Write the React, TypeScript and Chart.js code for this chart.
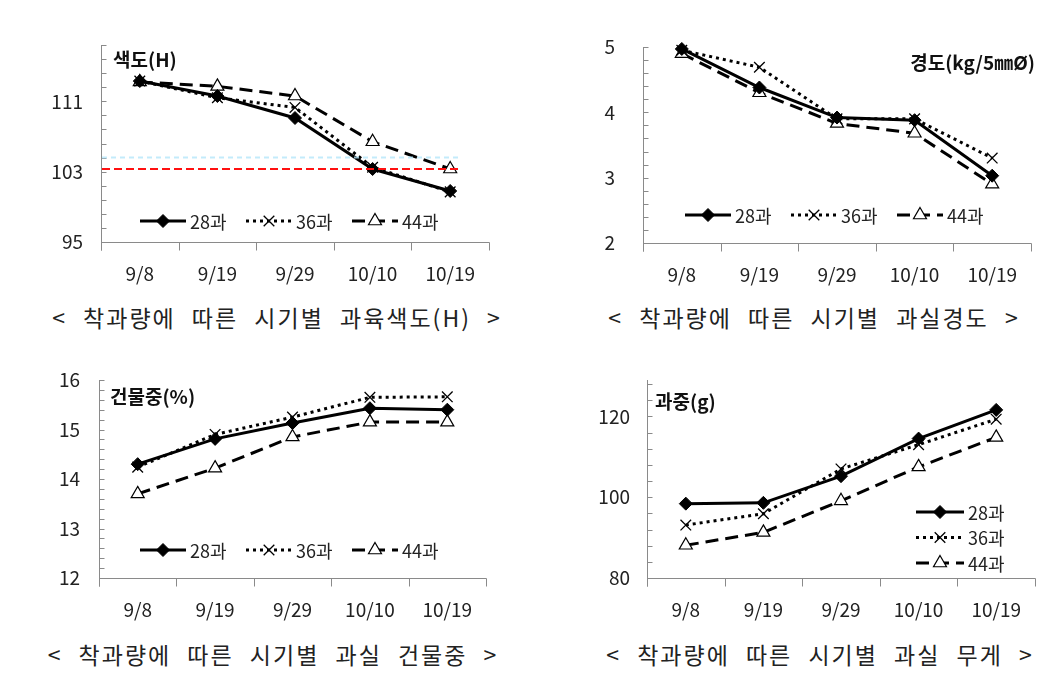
import React, { useEffect, useRef } from 'react';
import { Chart, registerables } from 'chart.js';

Chart.register(...registerables);

// ---------- data ----------
const dates = ['9/8', '9/19', '9/29', '10/10', '10/19'];
const seriesNames = ['28과', '36과', '44과'];

const hue28 = [113.3, 111.6, 109.1, 103.3, 100.8];
const hue36 = [113.3, 111.4, 110.3, 103.5, 100.7];
const hue44 = [113.2, 112.7, 111.6, 106.4, 103.3];
const hueTicks = [95, 103, 111];
const hueRef = 103.3;
const hueRefFaint = 104.6;

const firm28 = [4.97, 4.38, 3.92, 3.88, 3.03];
const firm36 = [4.95, 4.69, 3.9, 3.9, 3.3];
const firm44 = [4.9, 4.3, 3.83, 3.68, 2.9];
const firmTicks = [2, 3, 4, 5];

const dry28 = [14.3, 14.81, 15.13, 15.43, 15.4];
const dry36 = [14.24, 14.9, 15.25, 15.65, 15.66];
const dry44 = [13.7, 14.22, 14.85, 15.15, 15.15];
const dryTicks = [12, 13, 14, 15, 16];

const wt28 = [98.4, 98.6, 105.2, 114.5, 121.6];
const wt36 = [93.1, 95.9, 107.0, 113.0, 119.3];
const wt44 = [88.1, 91.3, 99.1, 107.5, 114.8];
const wtTicks = [80, 100, 120];

const captions = [
  '< 착과량에 따른 시기별 과육색도(H) >',
  '< 착과량에 따른 시기별 과실경도 >',
  '< 착과량에 따른 시기별 과실 건물중 >',
  '< 착과량에 따른 시기별 과실 무게 >',
];

// ---------- styles ----------
const FONT = "'Noto Sans CJK KR', 'Noto Sans', sans-serif";
const TEXT = '#222222';
const AXIS = '#8a8a8a';

const seriesStyles = [
  { borderDash: [], pointStyle: 'rectRot', pointRadius: 6.5, pointBackgroundColor: '#000', pointBorderWidth: 1 },
  { borderDash: [3, 4], pointStyle: 'crossRot', pointRadius: 7.5, pointBackgroundColor: '#000', pointBorderWidth: 1.3 },
  { borderDash: [13, 7], pointStyle: 'triangle', pointRadius: 7.5, pointBackgroundColor: '#fff', pointBorderWidth: 1.2 },
];

type PanelCfg = {
  box: { x: number; y: number; w: number; h: number };
  plot: { l: number; t: number; r: number; b: number };
  series: number[][];
  min: number;
  max: number;
  ticks: number[];
  minor: number;
  labelPad: number;
  title: { text: string; align: 'left' | 'right'; dx: number; dy: number };
  legend: { mode: 'row' | 'col'; dx: number; dy: number; fromRight?: boolean };
  refs?: { value: number; color: string; dash: number[]; width: number }[];
};

const panels: PanelCfg[] = [
  {
    box: { x: 20, y: 30, w: 480, h: 265 },
    plot: { l: 101, t: 45, r: 489, b: 242 },
    series: [hue28, hue36, hue44],
    min: 95, max: 117.4, ticks: hueTicks, minor: 1.6, labelPad: 18,
    title: { text: '색도(H)', align: 'left', dx: 12, dy: 15 },
    legend: { mode: 'row', dx: 39, dy: -21 },
    refs: [
      { value: hueRefFaint, color: 'rgba(180,230,250,0.8)', dash: [5, 4], width: 2 },
      { value: hueRef, color: '#ff1010', dash: [8, 4], width: 2 },
    ],
  },
  {
    box: { x: 560, y: 30, w: 490, h: 265 },
    plot: { l: 643, t: 47, r: 1031, b: 243 },
    series: [firm28, firm36, firm44],
    min: 2, max: 5, ticks: firmTicks, minor: 0.2, labelPad: 28,
    title: { text: '경도(kg/5㎜Ø)', align: 'right', dx: 4, dy: 16 },
    legend: { mode: 'row', dx: 42, dy: -28 },
  },
  {
    box: { x: 20, y: 365, w: 480, h: 265 },
    plot: { l: 99, t: 380, r: 486, b: 578 },
    series: [dry28, dry36, dry44],
    min: 12, max: 16, ticks: dryTicks, minor: 0.2, labelPad: 19,
    title: { text: '건물중(%)', align: 'left', dx: 11, dy: 17 },
    legend: { mode: 'row', dx: 41, dy: -28 },
  },
  {
    box: { x: 560, y: 365, w: 490, h: 265 },
    plot: { l: 647, t: 380, r: 1035, b: 578 },
    series: [wt28, wt36, wt44],
    min: 80, max: 129, ticks: wtTicks, minor: 4, labelPad: 17,
    title: { text: '과중(g)', align: 'left', dx: 8, dy: 22 },
    legend: { mode: 'col', dx: -119, dy: -66, fromRight: true },
  },
];

const decoPlugin = {
  id: 'deco',
  beforeDatasetsDraw(chart: any) {
    const cfg: PanelCfg = chart.options.plugins.deco.cfg;
    const { ctx, chartArea } = chart;
    const ys = chart.scales.y;
    const left = Math.round(chartArea.left) + 0.5;
    const bottom = Math.round(chartArea.bottom) + 0.5;
    ctx.save();
    ctx.strokeStyle = AXIS;
    ctx.lineWidth = 1;
    ctx.setLineDash([]);
    ctx.beginPath();
    ctx.moveTo(left, Math.round(chartArea.top));
    ctx.lineTo(left, bottom + 8);
    ctx.moveTo(left, bottom);
    ctx.lineTo(Math.round(chartArea.right) + 0.5, bottom);
    const n = Math.round((cfg.max - cfg.min) / cfg.minor);
    for (let i = 0; i <= n; i++) {
      const y = Math.round(ys.getPixelForValue(cfg.min + i * cfg.minor)) + 0.5;
      ctx.moveTo(left, y);
      ctx.lineTo(left + 5, y);
    }
    const w = (chartArea.right - chartArea.left) / dates.length;
    for (let i = 0; i <= dates.length; i++) {
      const x = Math.round(chartArea.left + i * w) + 0.5;
      ctx.moveTo(x, bottom);
      ctx.lineTo(x, bottom + 8);
    }
    ctx.stroke();
    ctx.restore();
  },
  afterDatasetsDraw(chart: any) {
    const cfg: PanelCfg = chart.options.plugins.deco.cfg;
    const { ctx, chartArea } = chart;
    const ys = chart.scales.y;
    const xs = chart.scales.x;
    ctx.save();
    if (cfg.refs) {
      const w = (chartArea.right - chartArea.left) / dates.length;
      const xEnd = xs.getPixelForValue(dates.length - 1) + 0.15 * w;
      for (const r of cfg.refs) {
        const y = ys.getPixelForValue(r.value);
        ctx.strokeStyle = r.color;
        ctx.lineWidth = r.width;
        ctx.setLineDash(r.dash);
        ctx.beginPath();
        ctx.moveTo(chartArea.left + 1, y);
        ctx.lineTo(xEnd, y);
        ctx.stroke();
      }
    }
    ctx.setLineDash([]);
    ctx.fillStyle = '#111';
    ctx.font = `bold 19px ${FONT}`;
    ctx.textBaseline = 'middle';
    if (cfg.title.align === 'left') {
      ctx.textAlign = 'left';
      ctx.fillText(cfg.title.text, chartArea.left + cfg.title.dx, chartArea.top + cfg.title.dy);
    } else {
      ctx.textAlign = 'right';
      ctx.fillText(cfg.title.text, chartArea.right + cfg.title.dx, chartArea.top + cfg.title.dy);
    }
    const sampleW = cfg.legend.mode === 'row' ? 46 : 48;
    const itemW = 106;
    const rowH = 25.5;
    const x0 = cfg.legend.fromRight ? chartArea.right + cfg.legend.dx : chartArea.left + cfg.legend.dx;
    const y0 = chartArea.bottom + cfg.legend.dy;
    chart.data.datasets.forEach((ds: any, i: number) => {
      const x = cfg.legend.mode === 'row' ? x0 + i * itemW : x0;
      const y = cfg.legend.mode === 'row' ? y0 : y0 + i * rowH;
      ctx.save();
      ctx.strokeStyle = ds.borderColor;
      ctx.lineWidth = ds.borderWidth;
      ctx.setLineDash(ds.borderDash || []);
      ctx.beginPath();
      ctx.moveTo(x, y);
      ctx.lineTo(x + sampleW, y);
      ctx.stroke();
      ctx.setLineDash([]);
      const el = chart.getDatasetMeta(i).data[0];
      const ox = el.x, oy = el.y;
      el.x = x + sampleW / 2;
      el.y = y;
      el.draw(ctx);
      el.x = ox;
      el.y = oy;
      ctx.restore();
      ctx.fillStyle = TEXT;
      ctx.font = `18px ${FONT}`;
      ctx.textAlign = 'left';
      ctx.textBaseline = 'middle';
      ctx.fillText(ds.label, x + sampleW + 4, y + 1);
    });
    ctx.restore();
  },
};

function Panel({ cfg }: { cfg: PanelCfg }) {
  const ref = useRef<HTMLCanvasElement>(null);
  useEffect(() => {
    const { box, plot } = cfg;
    const chart = new Chart(ref.current as HTMLCanvasElement, {
      type: 'line',
      data: {
        labels: dates,
        datasets: cfg.series.map((values, i) => ({
          label: seriesNames[i],
          data: values,
          borderColor: '#000',
          borderWidth: 3,
          borderDash: seriesStyles[i].borderDash,
          borderCapStyle: 'butt',
          pointStyle: seriesStyles[i].pointStyle as any,
          pointRadius: seriesStyles[i].pointRadius,
          pointBackgroundColor: seriesStyles[i].pointBackgroundColor,
          pointBorderColor: '#000',
          pointBorderWidth: seriesStyles[i].pointBorderWidth,
          tension: 0,
          clip: false as any,
        })),
      },
      options: {
        animation: false,
        responsive: false,
        maintainAspectRatio: false,
        events: [],
        layout: {
          padding: { left: 0, top: plot.t - box.y, right: box.x + box.w - plot.r, bottom: 0 },
        },
        plugins: {
          legend: { display: false },
          tooltip: { enabled: false },
          deco: { cfg } as any,
        } as any,
        scales: {
          x: {
            type: 'category',
            offset: true,
            grid: { display: false, offset: true },
            border: { display: false },
            ticks: {
              color: TEXT,
              font: { family: FONT, size: 19 },
              padding: 12,
              maxRotation: 0,
              autoSkip: false,
            },
            afterFit(scale: any) {
              scale.height = box.y + box.h - plot.b;
            },
          },
          y: {
            type: 'linear',
            min: cfg.min,
            max: cfg.max,
            grid: {
              display: true,
              drawOnChartArea: false,
              drawTicks: true,
              tickLength: cfg.labelPad,
              color: 'rgba(0,0,0,0)',
            },
            border: { display: false },
            ticks: {
              color: TEXT,
              font: { family: FONT, size: 19 },
              padding: 0,
              callback: (v: any) => String(v),
            },
            afterBuildTicks(scale: any) {
              scale.ticks = cfg.ticks.map((v) => ({ value: v }));
            },
            afterFit(scale: any) {
              scale.width = plot.l - box.x;
            },
          },
        },
      },
      plugins: [decoPlugin as any],
    });
    return () => chart.destroy();
  }, [cfg]);
  return (
    <div style={{ position: 'absolute', left: cfg.box.x, top: cfg.box.y, width: cfg.box.w, height: cfg.box.h }}>
      <canvas ref={ref} width={cfg.box.w} height={cfg.box.h} style={{ width: cfg.box.w, height: cfg.box.h, display: 'block' }} />
    </div>
  );
}

const captionPos = [
  { cx: 277, cy: 317 },
  { cx: 814, cy: 317 },
  { cx: 273, cy: 654 },
  { cx: 820, cy: 654 },
];

export default function App() {
  return (
    <div style={{ position: 'absolute', left: 0, top: 0, width: 1061, height: 687, background: '#fff', overflow: 'hidden' }}>
      {panels.map((p, i) => (
        <Panel key={i} cfg={p} />
      ))}
      {captions.map((c, i) => (
        <div
          key={'c' + i}
          style={{
            position: 'absolute',
            left: captionPos[i].cx - 270,
            top: captionPos[i].cy - 16,
            width: 540,
            height: 32,
            lineHeight: '32px',
            textAlign: 'center',
            fontFamily: FONT,
            fontSize: 23,
            letterSpacing: 2,
            wordSpacing: 9,
            color: TEXT,
            whiteSpace: 'nowrap',
          }}
        >
          {c}
        </div>
      ))}
    </div>
  );
}
